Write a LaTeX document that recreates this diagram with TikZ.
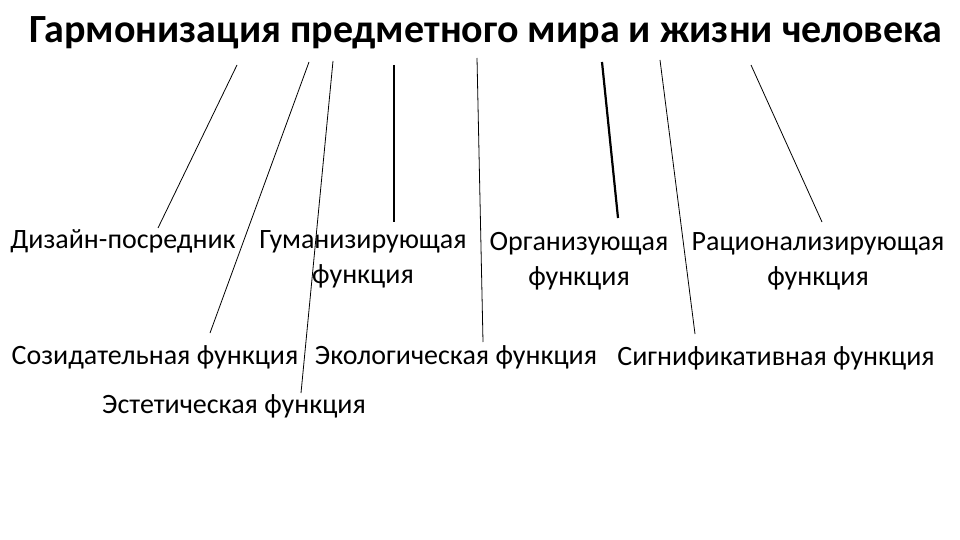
\documentclass[tikz,border=0pt]{standalone}
\usepackage{fontspec}
\setmainfont{Carlito}
\begin{document}
\begin{tikzpicture}[x=1pt,y=-1pt,
  lbl/.style={inner sep=0pt, anchor=base, align=center, font=\fontsize{28}{35}\selectfont},
  ttl/.style={inner sep=0pt, anchor=base, font=\fontsize{40}{42}\selectfont\bfseries},
  thin line/.style={line width=0.8pt},
  thick line/.style={line width=2.2pt}]
\fill[white] (0,0) rectangle (960,540);
\useasboundingbox (0,0) rectangle (960,540);
\node[ttl] (title) at (486,43) {Гармонизация предметного мира и жизни человека};
\node[lbl] (dp) at (123,248) {Дизайн-посредник};
\node[lbl] (gum) at (363,283) {Гуманизирующая\\функция};
\node[lbl] (org) at (579,285) {Организующая\\функция};
\node[lbl] (rac) at (818,285) {Рационализирующая\\функция};
\node[lbl] (soz) at (155,364) {Созидательная функция};
\node[lbl] (eko) at (456,364) {Экологическая функция};
\node[lbl] (sig) at (776,365) {Сигнификативная функция};
\node[lbl] (est) at (234,413) {Эстетическая функция};
% top ends
\coordinate (t1) at (237,65);
\coordinate (t2) at (309,62);
\coordinate (t3) at (333,61);
\coordinate (t4) at (394,65);
\coordinate (t5) at (477,58);
\coordinate (t6) at (602,62);
\coordinate (t7) at (660,60);
\coordinate (t8) at (751,65);
% bottom ends
\coordinate (b1) at (158,228);
\coordinate (b2) at (210,333);
\coordinate (b3) at (301,393);
\coordinate (b4) at (394,222);
\coordinate (b5) at (483,342);
\coordinate (b6) at (618,218);
\coordinate (b7) at (695,334);
\coordinate (b8) at (822,222);
\draw[thin line] (t1) -- (b1);
\draw[thin line] (t2) -- (b2);
\draw[thin line] (t3) -- (b3);
\draw[thick line] (t4) -- (b4);
\draw[thin line] (t5) -- (b5);
\draw[thick line] (t6) -- (b6);
\draw[thin line] (t7) -- (b7);
\draw[thin line] (t8) -- (b8);
\end{tikzpicture}
\end{document}
